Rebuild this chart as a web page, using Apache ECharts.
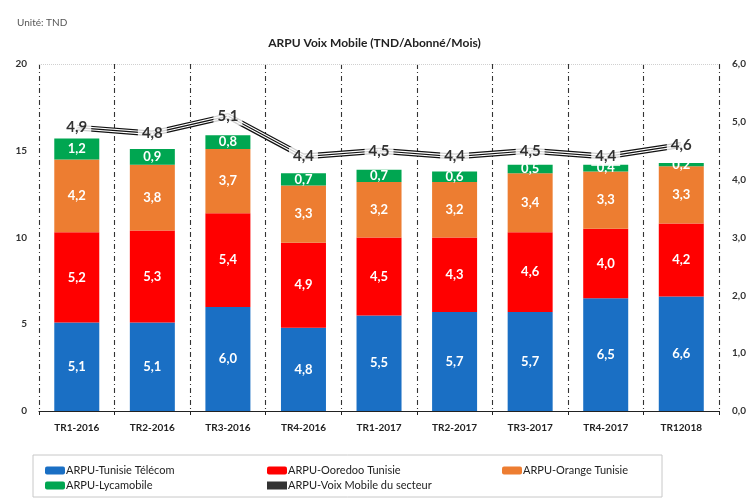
<!DOCTYPE html>
<html>
<head>
<meta charset="utf-8">
<script src="https://cdn.jsdelivr.net/npm/echarts@6/dist/echarts.min.js"></script>
<style>
	html, body { margin: 0; padding: 0; background: #fff; }
	#arpuChart { width: 749px; height: 499px; }
</style>
</head>
<body>
<div id="arpuChart"></div>
<script>
// trimestres
const categories = ['TR1-2016', 'TR2-2016', 'TR3-2016', 'TR4-2016', 'TR1-2017', 'TR2-2017', 'TR3-2017', 'TR4-2017', 'TR12018']
// ARPU par opérateur (TND/abonné/mois)
const tunisieTelecom = [5.1, 5.1, 6.0, 4.8, 5.5, 5.7, 5.7, 6.5, 6.6]
const ooredoo = [5.2, 5.3, 5.4, 4.9, 4.5, 4.3, 4.6, 4.0, 4.2]
const orange = [4.2, 3.8, 3.7, 3.3, 3.2, 3.2, 3.4, 3.3, 3.3]
const lycamobile = [1.2, 0.9, 0.8, 0.7, 0.7, 0.6, 0.5, 0.4, 0.2]
// ARPU du secteur (axe de droite)
const secteur = [4.9, 4.8, 5.1, 4.4, 4.5, 4.4, 4.5, 4.4, 4.6]
const leftTicks = [0, 5, 10, 15, 20]
const rightTicks = [0, 1, 2, 3, 4, 5, 6]

const fontFamily = 'Lato, "Liberation Sans", sans-serif'
const fmt = (v) => Number(v).toFixed(1).replace('.', ',')

const barSeries = (name, data, color) => ({
	name: name,
	type: 'bar',
	stack: 'arpu',
	barWidth: 45,
	data: data,
	itemStyle: { color: color },
	label: {
		show: true,
		position: 'inside',
		color: '#fff',
		fontWeight: 'bold',
		fontSize: 13,
		fontFamily: fontFamily,
		formatter: (p) => fmt(p.value)
	}
})

const chart = echarts.init(document.getElementById('arpuChart'))
const options = {
	animation: false,
	textStyle: { fontFamily: fontFamily },
	title: [
		{
			text: 'Unité: TND',
			left: 12,
			top: 13,
			textStyle: { fontSize: 10, fontWeight: 'normal', color: '#555', fontFamily: fontFamily }
		},
		{
			text: 'ARPU Voix Mobile (TND/Abonné/Mois)',
			left: 'center',
			top: 32,
			textStyle: { fontSize: 12, fontWeight: 'bold', color: '#222', fontFamily: fontFamily }
		}
	],
	graphic: [
		{
			// cadre de la légende
			type: 'rect',
			shape: { x: 33, y: 455, width: 629, height: 42 },
			style: { fill: 'none', stroke: '#c8c8c8', lineWidth: 1 }
		}
	],
	legend: [
		{
			orient: 'vertical',
			left: 40,
			top: 460,
			itemGap: 4,
			itemWidth: 20,
			itemHeight: 8,
			textStyle: { fontSize: 11, color: '#222', fontFamily: fontFamily, padding: [0, 0, 0, -4] },
			data: ['ARPU-Tunisie Télécom', 'ARPU-Lycamobile']
		},
		{
			orient: 'vertical',
			left: 262,
			top: 460,
			itemGap: 4,
			itemWidth: 20,
			itemHeight: 8,
			textStyle: { fontSize: 11, color: '#222', fontFamily: fontFamily, padding: [0, 0, 0, -4] },
			data: ['ARPU-Ooredoo Tunisie', { name: 'ARPU-Voix Mobile du secteur', icon: 'rect', itemStyle: { color: '#333' } }]
		},
		{
			orient: 'vertical',
			left: 497,
			top: 460,
			itemWidth: 20,
			itemHeight: 8,
			textStyle: { fontSize: 11, color: '#222', fontFamily: fontFamily, padding: [0, 0, 0, -4] },
			data: ['ARPU-Orange Tunisie']
		}
	],
	grid: {
		left: 39,
		right: 27,
		top: 64,
		bottom: 88
	},
	xAxis: {
		type: 'category',
		data: categories,
		axisLine: { lineStyle: { color: '#222', width: 1.2 } },
		axisTick: { show: true, length: 4, lineStyle: { color: '#222' } },
		axisLabel: { color: '#222', fontSize: 10, fontWeight: 'bold', margin: 12, fontFamily: fontFamily },
		splitLine: {
			show: true,
			lineStyle: { color: '#333', type: [5, 3, 1, 3], width: 1.1 }
		}
	},
	yAxis: [
		{
			type: 'value',
			min: leftTicks[0],
			max: leftTicks[leftTicks.length - 1],
			interval: 5,
			axisLine: { show: false },
			axisTick: { show: false },
			splitLine: { show: false },
			axisLabel: { color: '#333', fontSize: 10, fontWeight: 'bold', margin: 12, fontFamily: fontFamily }
		},
		{
			type: 'value',
			min: rightTicks[0],
			max: rightTicks[rightTicks.length - 1],
			interval: 1,
			position: 'right',
			axisLine: { show: false },
			axisTick: { show: false },
			splitLine: { show: false },
			axisLabel: {
				color: '#333',
				fontSize: 10,
				fontWeight: 'bold',
				margin: 13,
				fontFamily: fontFamily,
				formatter: (v) => fmt(v)
			}
		}
	],
	series: [
		Object.assign(barSeries('ARPU-Tunisie Télécom', tunisieTelecom, '#1a6fc4'), {
			markLine: {
				silent: true,
				symbol: 'none',
				label: { show: false },
				lineStyle: { color: '#d0d0d0', type: 'dotted', width: 1 },
				data: [{ yAxis: leftTicks[leftTicks.length - 1] }]
			}
		}),
		barSeries('ARPU-Ooredoo Tunisie', ooredoo, '#ff0000'),
		barSeries('ARPU-Orange Tunisie', orange, '#ed7d31'),
		barSeries('ARPU-Lycamobile', lycamobile, '#00a651'),
		{
			// trait double : contour noir
			name: 'ARPU-Voix Mobile du secteur',
			type: 'line',
			yAxisIndex: 1,
			data: secteur,
			symbol: 'none',
			z: 5,
			lineStyle: { color: '#111', width: 6 },
			itemStyle: { color: '#333' }
		},
		{
			name: 'secteur-blanc',
			type: 'line',
			yAxisIndex: 1,
			data: secteur,
			symbol: 'none',
			z: 6,
			lineStyle: { color: '#fff', width: 3.5 }
		},
		{
			name: 'secteur-centre',
			type: 'line',
			yAxisIndex: 1,
			data: secteur,
			symbol: 'none',
			z: 7,
			lineStyle: { color: '#111', width: 1.2 }
		},
		{
			// étiquettes du secteur
			name: 'secteur-etiquettes',
			type: 'scatter',
			yAxisIndex: 1,
			data: secteur,
			symbolSize: 2,
			z: 8,
			itemStyle: { color: '#fff' },
			label: {
				show: true,
				position: 'inside',
				color: '#000',
				textBorderWidth: 0,
				fontSize: 15,
				fontWeight: 'bold',
				fontFamily: fontFamily,
				backgroundColor: '#fff',
				padding: [2, 4],
				formatter: (p) => fmt(p.value)
			}
		}
	]
}

chart.setOption(options)
</script>
</body>
</html>
